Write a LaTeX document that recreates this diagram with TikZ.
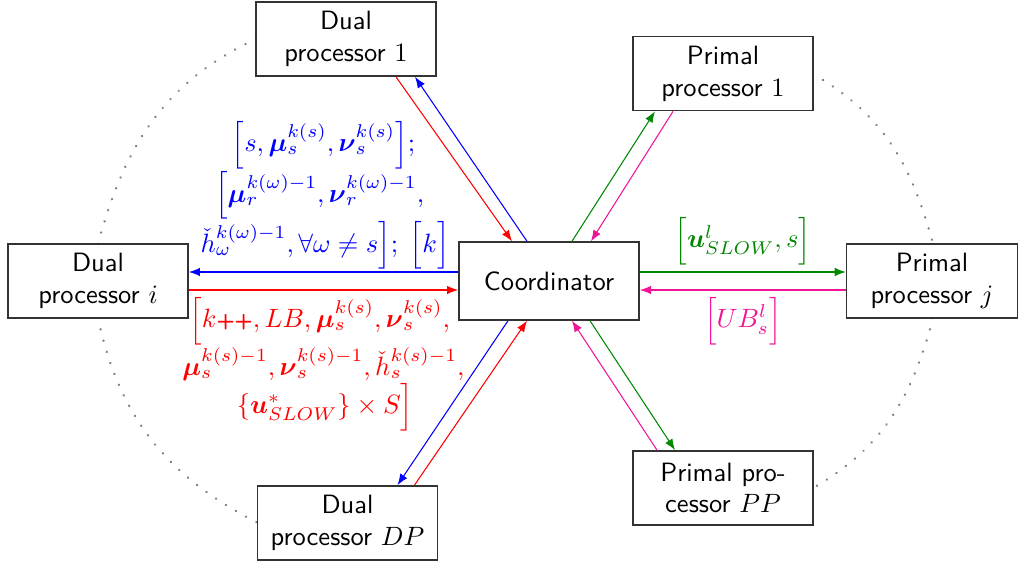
\documentclass[tikz,border=0pt]{standalone}
\usepackage{amsmath,amssymb}
\usetikzlibrary{arrows.meta}
\definecolor{mygreen}{RGB}{0,135,0}
\definecolor{mypink}{RGB}{240,20,150}
\newcommand{\tallph}{\vphantom{\boldsymbol{\mu}_{s}^{k(s)}}}
\begin{document}
\begin{tikzpicture}[x=0.3775pt,y=0.3775pt,font=\sffamily,
  box/.style={draw=black!80, line width=0.6pt, fill=white, align=center,
    minimum width=68pt, minimum height=28pt, inner sep=2pt},
  arr/.style={-{Latex[length=4.2pt,width=3.2pt]}},
  dots/.style={gray, line width=1pt, dash pattern=on 0.01pt off 4.4pt, line cap=round},
  lab/.style={align=center, inner sep=2.5pt}]
\useasboundingbox (0,0) rectangle (1020,565);

% dotted ring (drawn first)
\coordinate (d1w) at (256,526);
\coordinate (din) at (98,321);
\coordinate (dis) at (98,247);
\coordinate (dpw) at (258,42);
\coordinate (p1e) at (813,491);
\coordinate (pjn) at (933,321);
\coordinate (pjs) at (933,247);
\coordinate (ppe) at (813,77);
\draw[dots] (d1w) to[out=205,in=75] (din);
\draw[dots] (dis) to[out=282,in=153] (dpw);
\draw[dots] (p1e) to[out=-30,in=105] (pjn);
\draw[dots] (pjs) to[out=255,in=30] (ppe);

% nodes
\node[box] (d1) at (346,526) {Dual\\processor $1$};
\node[box] (p1) at (723,491.5) {Primal\\processor $1$};
\node[box] (di) at (98,284) {Dual\\processor $i$};
\node[box, minimum height=29.4pt] (co) at (549,284) {Coordinator};
\node[box, minimum width=64.5pt] (pj) at (932,284) {Primal\\processor $j$};
\node[box] (dp) at (347.5,42) {Dual\\processor $DP$};
\node[box] (pp) at (723,77) {Primal pro-\\cessor $PP$};

% Dual processor i
\draw[arr,blue] ([shift={(0,9)}]co.west) -- node[above,lab,yshift=-1.8pt]{%
  $\left[s,\boldsymbol{\mu}_s^{k(s)},\boldsymbol{\nu}_s^{k(s)}\right]\!;$\\
  $\left[\boldsymbol{\mu}_r^{k(\omega)-1},\boldsymbol{\nu}_r^{k(\omega)-1},\right.$\\
  $\left.\tallph\check{h}_\omega^{k(\omega)-1},\forall\omega\neq s\right]\!;\;\left[\tallph k\right]$}
  ([shift={(0,9)}]di.east);
\draw[arr,red] ([shift={(0,-9)}]di.east) -- node[below,lab]{%
  $\left[k\text{\sffamily\bfseries\footnotesize ++}, LB, \boldsymbol{\mu}_s^{k(s)},\boldsymbol{\nu}_s^{k(s)},\right.$\\
  $\boldsymbol{\mu}_s^{k(s)-1},\boldsymbol{\nu}_s^{k(s)-1},\check{h}_s^{k(s)-1},$\\
  $\left.\tallph\{\boldsymbol{u}^*_{SLOW}\}\times S\right]$}
  ([shift={(0,-9)}]co.west);

% Primal processor j
\draw[arr,mygreen] ([shift={(0,9)}]co.east) -- node[above,lab]{$\left[\tallph\boldsymbol{u}^l_{SLOW},s\right]$} ([shift={(0,9)}]pj.west);
\draw[arr,mypink] ([shift={(0,-9)}]pj.west) -- node[below,lab]{$\left[\tallph UB^l_s\right]$} ([shift={(0,-9)}]co.east);

% Dual processor 1
\draw[arr,red] ([shift={(50,0)}]d1.south) -- ([shift={(-37,0)}]co.north);
\draw[arr,blue] ([shift={(-22,0)}]co.north) -- ([shift={(69,0)}]d1.south);

% Primal processor 1
\draw[arr,mygreen] ([shift={(23,0)}]co.north) -- ([shift={(-68,0)}]p1.south);
\draw[arr,mypink] ([shift={(-50,0)}]p1.south) -- ([shift={(42,0)}]co.north);

% Dual processor DP
\draw[arr,blue] ([shift={(-41,0)}]co.south) -- ([shift={(50,0)}]dp.north);
\draw[arr,red] ([shift={(67,0)}]dp.north) -- ([shift={(-22,0)}]co.south);

% Primal processor PP
\draw[arr,mygreen] ([shift={(41,0)}]co.south) -- ([shift={(-48,0)}]pp.north);
\draw[arr,mypink] ([shift={(-66,0)}]pp.north) -- ([shift={(23,0)}]co.south);
\end{tikzpicture}
\end{document}
